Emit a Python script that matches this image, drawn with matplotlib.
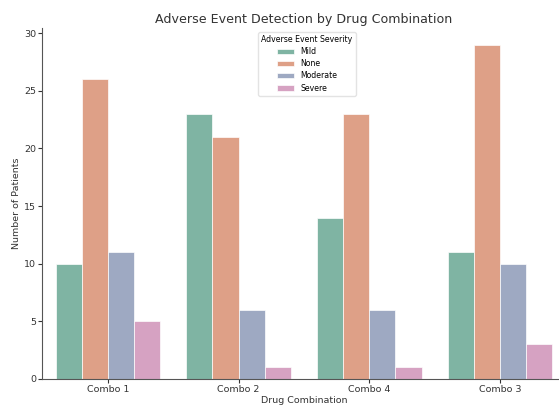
import matplotlib
matplotlib.use("Agg")
import matplotlib.pyplot as plt
import seaborn as sns
import pandas as pd

combos = ["Combo 1", "Combo 2", "Combo 4", "Combo 3"]
severities = ["Mild", "None", "Moderate", "Severe"]
mild = [10, 23, 14, 11]
none_ = [26, 21, 23, 29]
moderate = [11, 6, 6, 10]
severe = [5, 1, 1, 3]

rows = []
for sev, vals in zip(severities, [mild, none_, moderate, severe]):
    for c, v in zip(combos, vals):
        rows.append({"Drug Combination": c, "Severity": sev, "Count": v})
df = pd.DataFrame(rows)

plt.rcParams['font.family'] = ['DejaVu Sans']
fig = plt.figure(figsize=(5.59, 4.07), dpi=100)
ax = fig.add_axes([0.076, 0.069, 0.9355, 0.862])
sns.barplot(data=df, x="Drug Combination", y="Count", hue="Severity",
            order=combos, hue_order=severities, palette="Set2", ax=ax,
            errorbar=None, saturation=0.6, alpha=0.95,
            edgecolor="white", linewidth=0.5)
ax.set_xlim(-0.5, 3.5)
ax.set_title("Adverse Event Detection by Drug Combination", fontsize=9.1,
             color="#333333", pad=3.5)
ax.set_xlabel("Drug Combination", fontsize=6.8, color="#333333", labelpad=1)
ax.set_ylabel("Number of Patients", fontsize=6.8, color="#333333", labelpad=2)
ax.tick_params(labelsize=6.8, colors="#333333", length=3, pad=1.5)
for s in ["top", "right"]:
    ax.spines[s].set_visible(False)
for s in ["left", "bottom"]:
    ax.spines[s].set_color("#555555")
leg = ax.legend(title="Adverse Event Severity", loc="upper center", fontsize=5.6,
                title_fontsize=5.6, frameon=True, bbox_to_anchor=(0.506, 1.0),
                handlelength=2.2, labelspacing=0.4)
leg.get_frame().set_edgecolor("#dddddd")
fig.savefig("out.png", dpi=100)
